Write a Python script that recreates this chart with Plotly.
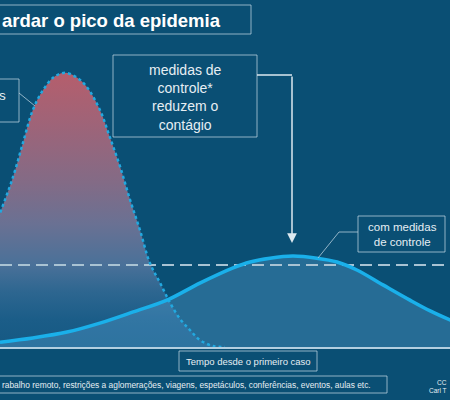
import plotly.graph_objects as go

# ---- data (time units 0..100 across the view, cases 0..100 up the view) ----
big_x = [-17.8, -13.3, -10.0, -6.7, -3.3, 0.0, 2.9, 5.1, 7.3, 9.6, 12.0, 14.4, 16.9, 19.3,
         22.2, 24.4, 26.7, 28.9, 31.1, 33.3, 35.6, 37.8, 40.0, 42.2, 44.4, 47.3, 50.0]
big_y = [0.6, 2.6, 7.2, 16.4, 28.0, 38.6, 49.0, 58.8, 68.3, 74.1, 77.8, 79.0, 77.8, 74.9,
         68.3, 60.5, 51.9, 42.4, 33.7, 24.2, 18.4, 12.7, 8.1, 4.9, 2.0, 0.3, 0.0]

flat_x = [0.0, 7.3, 14.9, 22.2, 29.6, 37.1, 44.4, 51.8, 55.6, 60.0, 65.1, 70.4, 74.9,
          79.3, 85.1, 91.1, 95.6, 100.0, 104.4]
flat_y = [1.4, 2.6, 4.3, 6.9, 10.1, 13.5, 18.4, 22.8, 24.5, 25.6, 26.2, 25.6, 24.5,
          22.2, 17.9, 13.5, 10.4, 7.8, 5.5]

capacity_x = [0, 100]
capacity_y = [23.6, 23.6]

title_text = "ardar o pico da epidemia"
left_box_text = "s"
measures_text = "medidas de<br>controle*<br>reduzem o<br>contágio"
with_measures_text = "com medidas<br>de controle"
xaxis_text = "Tempo desde o primeiro caso"
footnote_text = ("rabalho remoto, restrições a aglomerações, viagens, espetáculos, "
                 "conferências, eventos, aulas etc.")
credit_1 = "CC"
credit_2 = "Carl T"

W, H = 450, 400
PLOT_BOTTOM = 347
FONT = "Liberation Sans, Arial, sans-serif"
BG = "#0a4f74"
TXT = "#e6eef3"
BORDER = "rgba(190,212,226,0.75)"


def px(x):
    return x / W


def py(y):
    return (PLOT_BOTTOM - y) / PLOT_BOTTOM


fig = go.Figure()

# big (uncontrolled) curve fill with gradient
fig.add_trace(go.Scatter(
    x=big_x, y=big_y, mode="lines", line=dict(width=0, shape="spline"),
    fill="tozeroy",
    fillgradient=dict(type="vertical", start=0, stop=79,
                      colorscale=[[0.0, "#155983"], [0.1, "#1b5d88"], [0.2, "#2d6690"],
                                  [0.3, "#4a7199"], [0.45, "#6a7193"], [0.6, "#836b86"],
                                  [0.8, "#9d6479"], [1.0, "#b55e6c"]]),
    hoverinfo="skip", showlegend=False))

# flat curve fill
fig.add_trace(go.Scatter(
    x=flat_x, y=flat_y, mode="lines", line=dict(width=0, shape="spline"),
    fill="tozeroy", fillcolor="rgba(100,170,222,0.32)",
    hoverinfo="skip", showlegend=False))

# capacity dashed line
fig.add_trace(go.Scatter(
    x=capacity_x, y=capacity_y, mode="lines",
    line=dict(color="#a9c3d3", width=2, dash="12px,6px"),
    hoverinfo="skip", showlegend=False))

# big curve dotted outline
fig.add_trace(go.Scatter(
    x=big_x, y=big_y, mode="lines",
    line=dict(color="#22a9e0", width=2.5, dash="dot", shape="spline"),
    hoverinfo="skip", showlegend=False))

# flat curve solid line
fig.add_trace(go.Scatter(
    x=flat_x, y=flat_y, mode="lines",
    line=dict(color="#1ab0ea", width=3.5, shape="spline"),
    hoverinfo="skip", showlegend=False))

shapes = []


def rect(x0, y0, x1, y1):
    shapes.append(dict(type="rect", xref="paper", yref="paper",
                       x0=px(x0), x1=px(x1), y0=py(y1), y1=py(y0),
                       line=dict(color=BORDER, width=1), fillcolor="rgba(0,0,0,0)",
                       layer="above"))


def seg(x0, y0, x1, y1, color=BORDER, width=1):
    shapes.append(dict(type="line", xref="paper", yref="paper",
                       x0=px(x0), x1=px(x1), y0=py(y0), y1=py(y1),
                       line=dict(color=color, width=width), layer="above"))


rect(-10, 5, 251, 34)          # title box
rect(-10, 79, 19, 122)         # left box
seg(19, 93, 35, 106)
rect(113, 55, 257, 137)        # measures box
seg(257, 75, 292, 75, color="#dde9f0", width=1.5)
rect(358, 216, 445, 252)       # with measures box
seg(358, 232, 339, 232)
seg(339, 232, 318, 258)
rect(179, 351, 317, 371)       # x axis label box
rect(-10, 376, 387, 393)       # footnote box

annotations = []


def text(x, y, s, size, xanchor="center", bold=False, color=TXT):
    annotations.append(dict(xref="paper", yref="paper", x=px(x), y=py(y), text=s,
                            showarrow=False, xanchor=xanchor, yanchor="middle",
                            align="center",
                            font=dict(family=FONT, size=size, color=color,
                                      weight="bold" if bold else "normal")))


text(0, 20, title_text, 18.5, xanchor="left", bold=True, color="#ffffff")
text(7.5, 95, left_box_text, 13.5, xanchor="right")
annotations.append(dict(xref="paper", yref="paper", x=px(185), y=py(97), text=measures_text,
                        showarrow=False, xanchor="center", yanchor="middle", align="center",
                        font=dict(family=FONT, size=14, color=TXT)))
annotations.append(dict(xref="paper", yref="paper", x=px(402), y=py(234),
                        text=with_measures_text, showarrow=False, xanchor="center",
                        yanchor="middle", align="center",
                        font=dict(family=FONT, size=11.5, color=TXT)))
text(248, 361, xaxis_text, 9.5)
text(0, 385, footnote_text, 8.4, xanchor="left")
text(449, 382, credit_1, 6.5, xanchor="right")
text(449, 390, credit_2, 6.5, xanchor="right")

# vertical arrow
annotations.append(dict(xref="paper", yref="paper", x=px(292), y=py(243), text="",
                        showarrow=True, ax=0, ay=75 - 243, axref="pixel", ayref="pixel",
                        arrowhead=2, arrowsize=1.3, arrowwidth=1.5, arrowcolor="#dde9f0"))

fig.update_layout(
    width=W, height=H,
    margin=dict(l=0, r=0, t=0, b=H - PLOT_BOTTOM, pad=0),
    paper_bgcolor=BG, plot_bgcolor=BG,
    xaxis=dict(range=[0, 100], showgrid=False, zeroline=False, showticklabels=False,
               ticks="", showline=True, linecolor="#b3cfe0", linewidth=2, fixedrange=True),
    yaxis=dict(range=[0, 100], showgrid=False, zeroline=False, showticklabels=False,
               ticks="", showline=False, fixedrange=True),
    shapes=shapes, annotations=annotations, showlegend=False,
)

fig.write_html("out.html", config={"displayModeBar": False},
               post_script="document.body.style.margin='0';"
               "document.body.style.overflow='hidden';")
